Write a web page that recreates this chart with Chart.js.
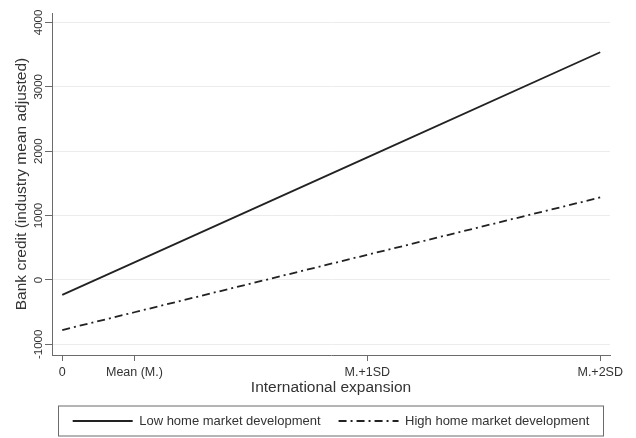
<!DOCTYPE html>
<html>
<head>
    <title>International expansion and bank credit</title>
    <script src="https://cdn.jsdelivr.net/npm/chart.js"></script>
    <style>
        html, body {
            margin: 0;
            padding: 0;
            background: #fff;
        }
        canvas {
            display: block;
        }
    </style>
</head>
<body>
    <canvas id="creditChart" width="636" height="438"></canvas>

    <script>
        // Data (x in SD units of international expansion)
        const xPositions = [0, 0.31, 1.31, 2.31];
        const xLabels = ['0', 'Mean (M.)', 'M.+1SD', 'M.+2SD'];
        const lowHomeMarket = [-233, 273, 1904, 3536];
        const highHomeMarket = [-778, -502, 390, 1281];
        const yTicks = [-1000, 0, 1000, 2000, 3000, 4000];

        const font = 'Liberation Sans, Arial, Helvetica, sans-serif';
        const axisGray = '#6b6b6b';
        const textColor = '#333';

        const toPoints = values => values.map((v, i) => ({ x: xPositions[i], y: v }));

        // Box round the legend, as in the Stata graph
        const legendFrame = {
            id: 'legendFrame',
            afterDraw(chart) {
                const lg = chart.legend;
                if (!lg) return;
                const ctx = chart.ctx;
                ctx.save();
                ctx.strokeStyle = axisGray;
                ctx.lineWidth = 1;
                ctx.setLineDash([]);
                ctx.strokeRect(lg.left + 6.5, lg.top + 9.5, lg.right - lg.left - 13, lg.bottom - lg.top - 11);
                ctx.restore();
            }
        };

        const chart = new Chart(document.getElementById('creditChart').getContext('2d'), {
            type: 'line',
            data: {
                datasets: [
                    {
                        label: 'Low home market development',
                        data: toPoints(lowHomeMarket),
                        borderColor: '#222',
                        borderWidth: 1.8,
                        pointRadius: 0,
                        fill: false,
                        tension: 0
                    },
                    {
                        label: 'High home market development',
                        data: toPoints(highHomeMarket),
                        borderColor: '#222',
                        borderWidth: 1.8,
                        borderDash: [8, 4, 2, 4],
                        pointRadius: 0,
                        fill: false,
                        tension: 0
                    }
                ]
            },
            options: {
                responsive: false,
                animation: false,
                devicePixelRatio: 1,
                layout: { padding: { top: 13, left: 0, right: 26, bottom: 0.5 } },
                plugins: {
                    tooltip: { enabled: false },
                    legend: {
                        position: 'bottom',
                        fullSize: false,
                        labels: {
                            usePointStyle: true,
                            pointStyle: 'line',
                            pointStyleWidth: 60,
                            boxHeight: 13,
                            padding: 18,
                            color: textColor,
                            font: { family: font, size: 13 },
                            // take the line style from the dataset, not the (hidden) points
                            generateLabels: chart => Chart.defaults.plugins.legend.labels.generateLabels(chart).map(item => {
                                const ds = chart.data.datasets[item.datasetIndex];
                                item.lineDash = ds.borderDash || [];
                                item.lineWidth = ds.borderWidth;
                                item.strokeStyle = ds.borderColor;
                                return item;
                            })
                        }
                    }
                },
                scales: {
                    x: {
                        type: 'linear',
                        min: -0.044,
                        max: 2.352,
                        afterBuildTicks: scale => {
                            scale.ticks = xPositions.map(v => ({ value: v }));
                        },
                        afterFit: scale => { scale.height = 41.5; },
                        ticks: {
                            autoSkip: false,
                            maxRotation: 0,
                            padding: 4,
                            color: textColor,
                            font: { family: font, size: 12.5 },
                            callback: (value, index) => xLabels[index]
                        },
                        grid: {
                            drawOnChartArea: false,
                            tickLength: 6,
                            tickColor: axisGray
                        },
                        border: { display: true, color: axisGray, width: 1 },
                        title: {
                            display: true,
                            text: 'International expansion',
                            color: textColor,
                            font: { family: font, size: 15.5 },
                            padding: { top: 0, bottom: -0.8 }
                        }
                    },
                    y: {
                        type: 'linear',
                        min: -1166,
                        max: 4146,
                        afterBuildTicks: scale => {
                            scale.ticks = yTicks.map(v => ({ value: v }));
                        },
                        afterFit: scale => { scale.width = 52; },
                        ticks: {
                            minRotation: 90,
                            maxRotation: 90,
                            crossAlign: 'center',
                            padding: -8.7,
                            color: textColor,
                            font: { family: font, size: 11.5 },
                            callback: value => String(value)
                        },
                        grid: {
                            color: '#ececec',
                            tickLength: 7,
                            tickColor: axisGray
                        },
                        border: { display: true, color: axisGray, width: 1 },
                        title: {
                            display: true,
                            text: 'Bank credit (industry mean adjusted)',
                            color: textColor,
                            font: { family: font, size: 15.5 },
                            padding: { top: 12.7, bottom: 0 }
                        }
                    }
                }
            },
            plugins: [legendFrame]
        });
    </script>
</body>
</html>
